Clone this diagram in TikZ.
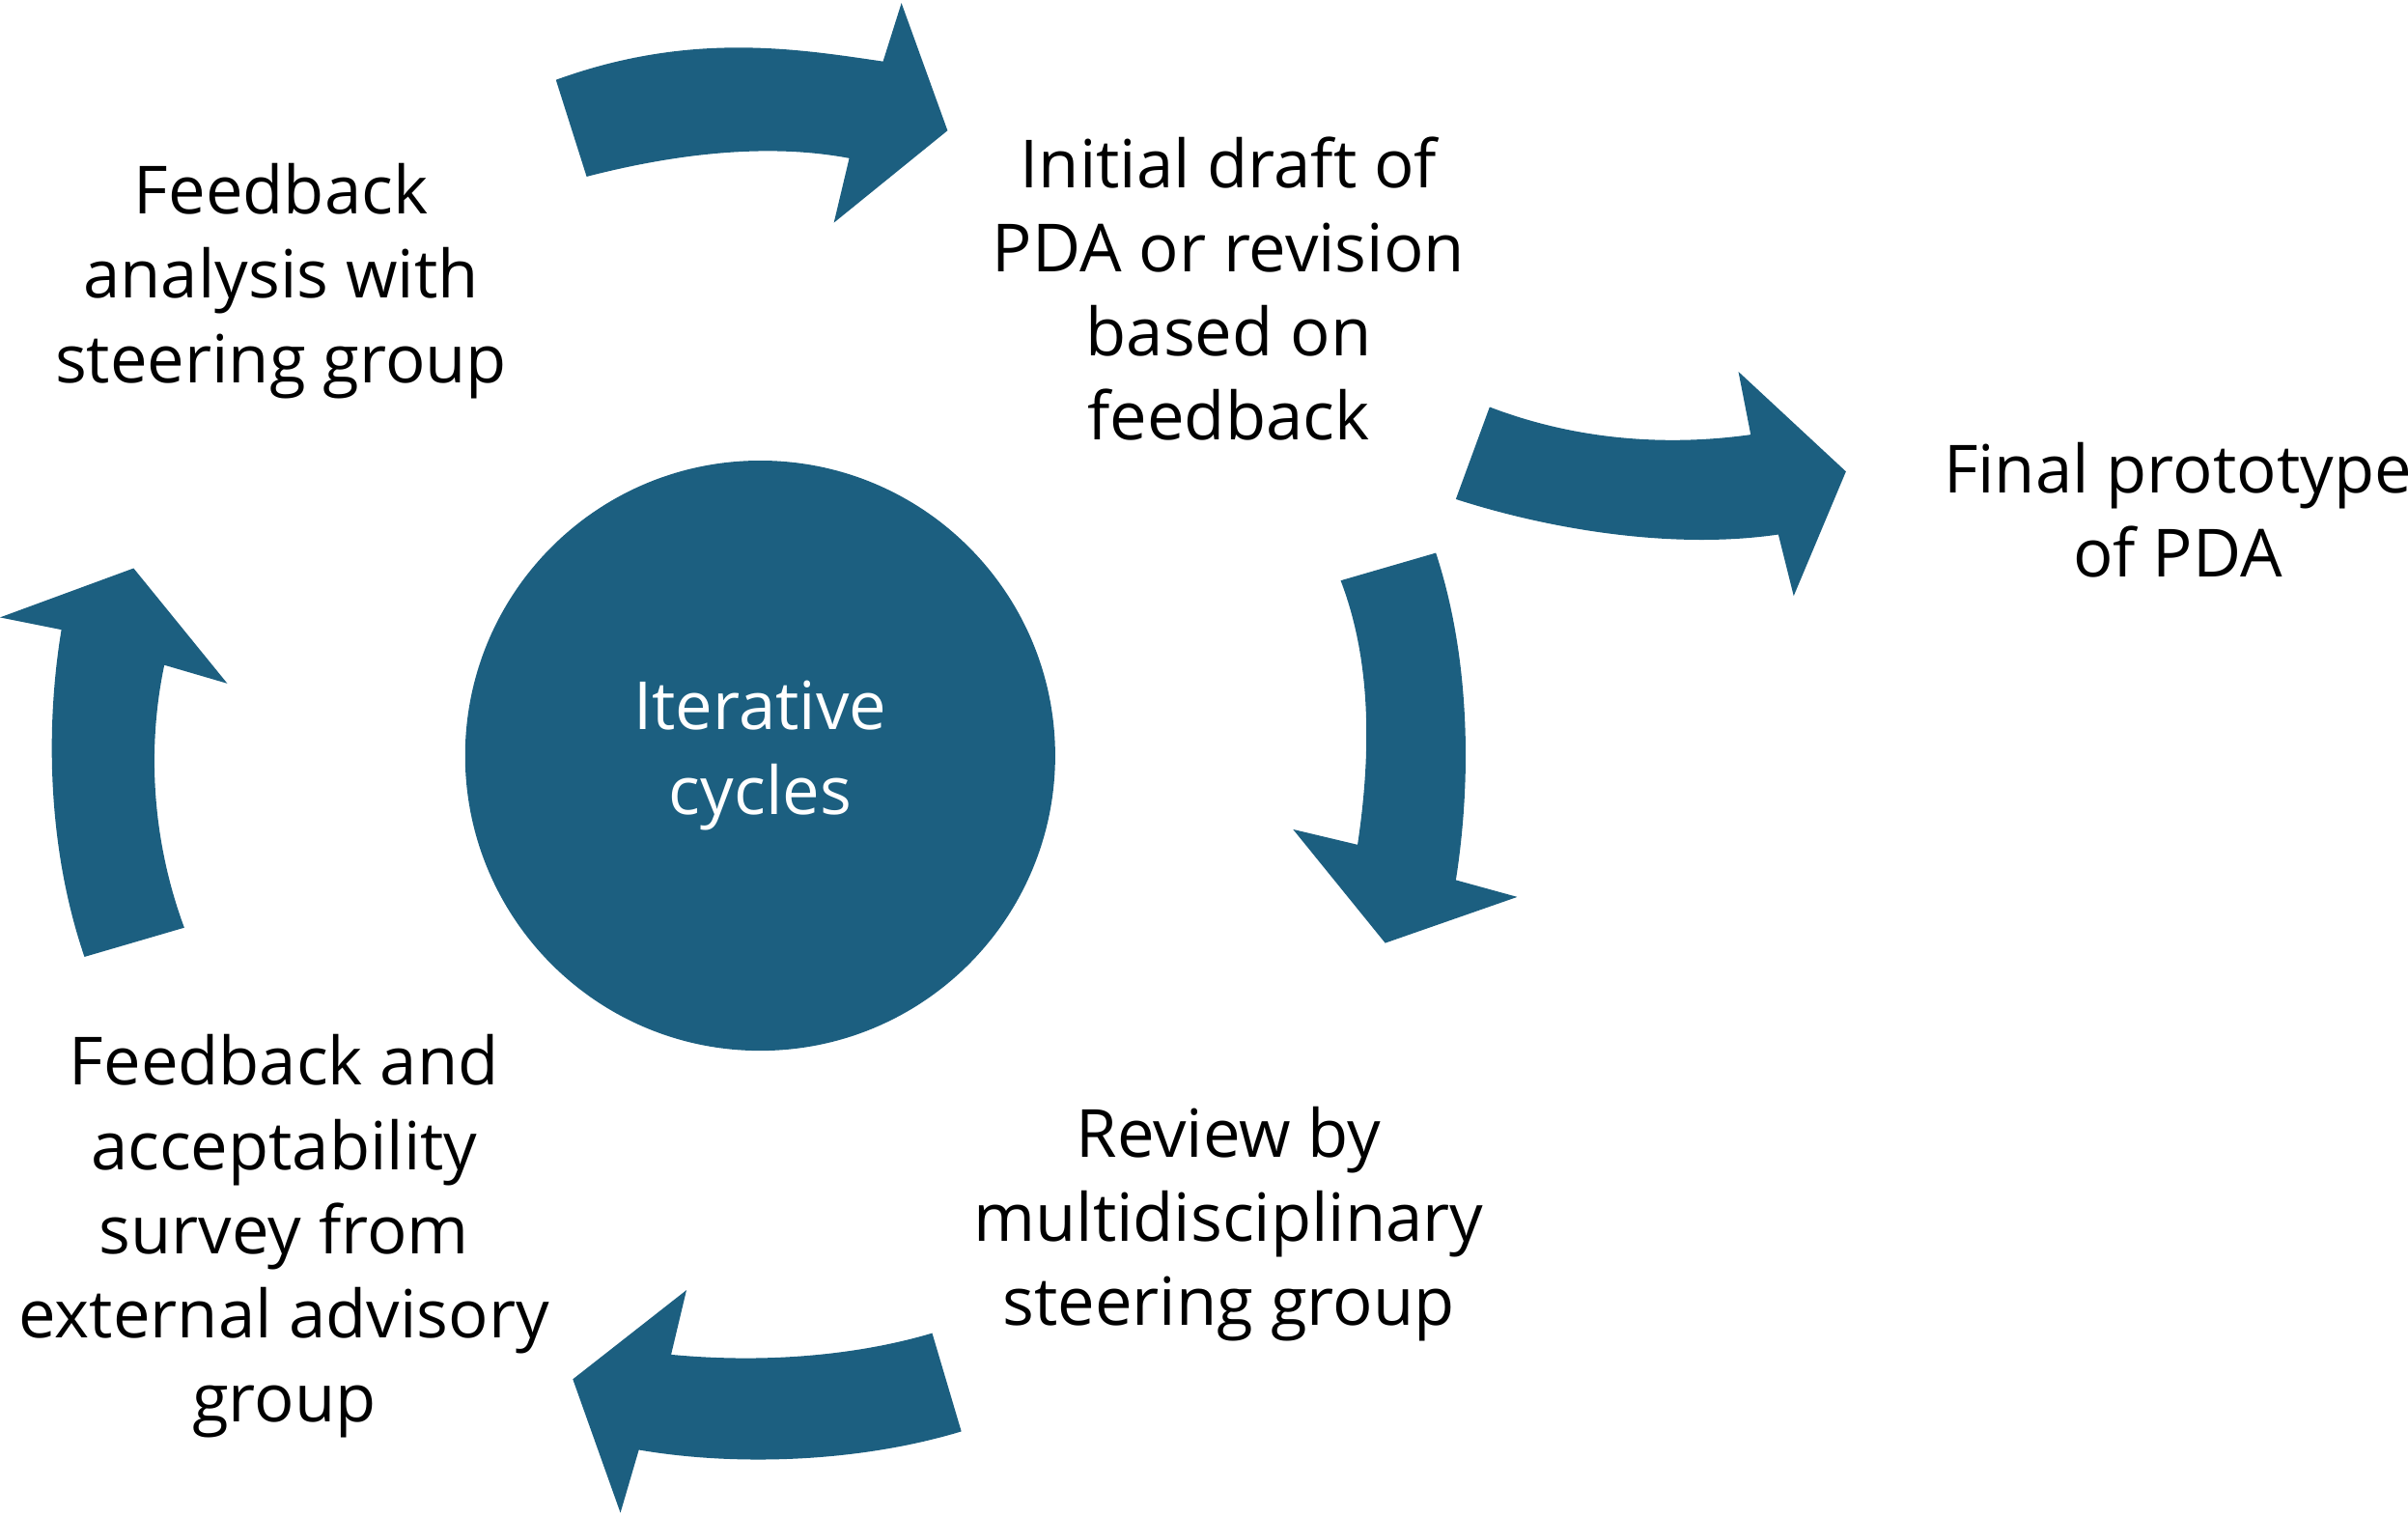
\documentclass[tikz,border=0pt]{standalone}
\usepackage{fontspec}
\setmainfont{Open Sans}
\definecolor{cyclecol}{HTML}{1C5F80}
\tikzset{
    steptext/.style={align=center, font=\fontsize{12.3}{15.6}\selectfont},
    bigarrow/.style={fill=cyclecol, draw=none}
}
\begin{document}
\begin{tikzpicture}[x=0.01cm, y=-0.01cm]
    \useasboundingbox (0,0) rectangle (1568,987);
    % centre
    \node[circle, fill=cyclecol, minimum size=3.84cm, inner sep=0pt] (core) at (495,492) {};
    \node[steptext, text=white] (cycles) at (core) {Iterative\\cycles};
    % steps
    \node[steptext] (analysis) at (183,183) {Feedback\\analysis with\\steering group};
    \node[steptext] (draft) at (800,188) {Initial draft of\\PDA or revision\\based on\\feedback};
    \node[steptext] (final) at (1418,332) {Final prototype\\of PDA};
    \node[steptext] (review) at (800,797) {Review by\\multidisciplinary\\steering group};
    \node[steptext] (survey) at (185,805) {Feedback and\\acceptability\\survey from\\external advisory\\group};
    % arrows
    \fill[bigarrow] (362,52) .. controls (450,20) and (520,32) .. (575,40)
        -- (587,2) -- (617,85) -- (543,145) -- (553,103)
        .. controls (500,93) and (440,100) .. (382,115) -- cycle;
    \fill[bigarrow] (970,265) .. controls (1030,288) and (1090,290) .. (1140,283)
        -- (1132,242) -- (1202,307) -- (1168,388) -- (1158,348)
        .. controls (1090,358) and (1010,345) .. (948,325) -- cycle;
    \fill[bigarrow] (935,360) .. controls (958,430) and (958,510) .. (948,573)
        -- (988,584) -- (902,614) -- (842,540) -- (884,550)
        .. controls (893,490) and (893,430) .. (873,378) -- cycle;
    \fill[bigarrow] (626,932) .. controls (560,952) and (480,955) .. (416,944)
        -- (404,985) -- (373,898) -- (447,840) -- (437,882)
        .. controls (500,888) and (560,882) .. (607,868) -- cycle;
    \fill[bigarrow] (55,623) .. controls (30,550) and (30,470) .. (40,410)
        -- (0,402) -- (87,370) -- (148,445) -- (107,433)
        .. controls (95,490) and (100,550) .. (120,604) -- cycle;
\end{tikzpicture}
\end{document}
